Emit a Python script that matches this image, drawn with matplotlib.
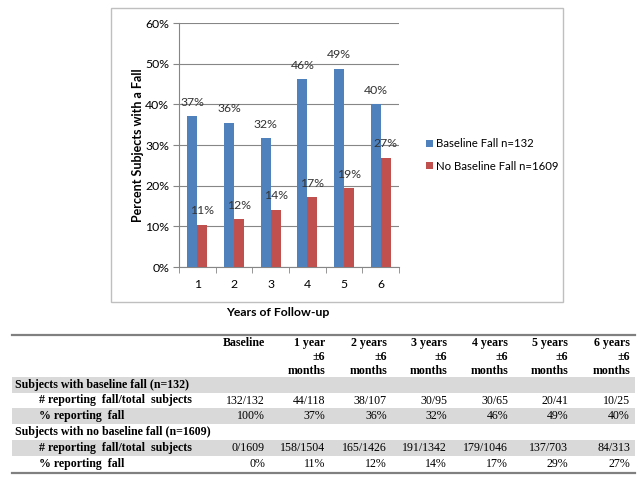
import matplotlib
matplotlib.use("Agg")
import matplotlib.pyplot as plt
from matplotlib.patches import Rectangle
from matplotlib.lines import Line2D
import numpy as np

# 차트 데이터
years = ["1", "2", "3", "4", "5", "6"]
baseline_fall = [37.1, 35.5, 31.7, 46.2, 48.8, 40.0]
no_baseline_fall = [10.4, 11.7, 14.1, 17.2, 19.4, 26.9]
baseline_labels = ["37%", "36%", "32%", "46%", "49%", "40%"]
no_baseline_labels = ["11%", "12%", "14%", "17%", "19%", "27%"]
series_names = ["Baseline Fall n=132", "No Baseline Fall n=1609"]

# 표 데이터
col_headers = ["Baseline", "1 year\n±6\nmonths", "2 years\n±6\nmonths", "3 years\n±6\nmonths",
               "4 years\n±6\nmonths", "5 years\n±6\nmonths", "6 years\n±6\nmonths"]
row_labels = ["Subjects with baseline fall (n=132)", "# reporting  fall/total  subjects",
              "% reporting  fall", "Subjects with no baseline fall (n=1609)",
              "# reporting  fall/total  subjects", "% reporting  fall"]
row_values = [
    [],
    ["132/132", "44/118", "38/107", "30/95", "30/65", "20/41", "10/25"],
    ["100%", "37%", "36%", "32%", "46%", "49%", "40%"],
    [],
    ["0/1609", "158/1504", "165/1426", "191/1342", "179/1046", "137/703", "84/313"],
    ["0%", "11%", "12%", "14%", "17%", "29%", "27%"],
]

W, H = 644, 482
def fx(px): return px / W
def fy(py): return 1 - py / H

fig = plt.figure(figsize=(W / 100, H / 100), dpi=100)

chart_font = "Lato"
blue = "#4f81bd"
red = "#c0504d"
grid_c = "#868686"
fs = 8.8

# 차트 외곽 박스
fig.patches.append(Rectangle((fx(111), fy(302)), fx(563) - fx(111), fy(8) - fy(302),
                             transform=fig.transFigure, fill=False, edgecolor="#bfbfbf", lw=1))

ax = fig.add_axes([fx(179), fy(267), fx(399) - fx(179), fy(23) - fy(267)])
x = np.arange(len(years))
bw = 0.27
b1 = ax.bar(x - bw / 2, baseline_fall, bw, color=blue, label=series_names[0], zorder=3)
b2 = ax.bar(x + bw / 2, no_baseline_fall, bw, color=red, label=series_names[1], zorder=3)

for xi, v, lab in zip(x, baseline_fall, baseline_labels):
    ax.annotate(lab, (xi - bw / 2, v), xytext=(0, 10), textcoords="offset points",
                ha="center", va="center", fontsize=fs, family=chart_font, color="#333333")
for xi, v, lab in zip(x, no_baseline_fall, no_baseline_labels):
    ax.annotate(lab, (xi + bw / 2, v), xytext=(0, 10), textcoords="offset points",
                ha="center", va="center", fontsize=fs, family=chart_font, color="#333333")

ax.set_xlim(-0.5, 5.5)
ax.set_ylim(0, 60)
ax.set_yticks(np.arange(0, 61, 10))
ax.set_yticklabels([f"{t}%" for t in range(0, 61, 10)], family=chart_font, fontsize=fs)
ax.set_xticks(x)
ax.set_xticklabels(years, family=chart_font, fontsize=fs)
ax.set_xticks(np.arange(-0.5, 6, 1), minor=True)
ax.tick_params(axis="x", which="major", length=0, pad=9)
ax.tick_params(axis="x", which="minor", length=4, color=grid_c)
ax.tick_params(axis="y", length=4, color=grid_c, pad=3)
ax.yaxis.grid(True, color=grid_c, lw=0.8, zorder=0)
for s in ["top", "right"]:
    ax.spines[s].set_visible(False)
for s in ["left", "bottom"]:
    ax.spines[s].set_color(grid_c)
    ax.spines[s].set_linewidth(0.8)
ax.set_ylabel("Percent Subjects with a Fall", family=chart_font, fontsize=9,
              fontweight="bold", labelpad=1)
fig.text(fx(278), fy(312), "Years of Follow-up", ha="center", va="center",
         family=chart_font, fontsize=fs, fontweight="bold")

fig.legend(handles=[b1, b2], loc="center left", bbox_to_anchor=(fx(416), fy(155)),
           frameon=False, handlelength=0.6, handleheight=0.6, handletextpad=0.3,
           labelspacing=1.0, prop={"family": chart_font, "size": 8.2})

# 표
tab_font = "Liberation Serif"
tfs = 8.6
tab_left, tab_right = 12, 635
row_tops = [377, 393, 408, 424, 440, 456, 472]
grey_rows = [0, 2, 4]
for i in grey_rows:
    fig.patches.append(Rectangle((fx(tab_left), fy(row_tops[i + 1])), fx(tab_right) - fx(tab_left),
                                 fy(row_tops[i]) - fy(row_tops[i + 1]), transform=fig.transFigure,
                                 color="#d9d9d9", lw=0, zorder=0))
for yy, lw in [(335, 1.6), (473, 1.6)]:
    fig.lines.append(Line2D([fx(tab_left), fx(tab_right)], [fy(yy), fy(yy)],
                            transform=fig.transFigure, color="#808080", lw=lw))

col_right = [265, 325, 387, 447, 508, 568, 630]
for cx, hdr in zip(col_right, col_headers):
    fig.text(fx(cx), fy(337), hdr, ha="right", va="top", family=tab_font, fontsize=tfs,
             fontweight="bold", linespacing=1.25)

for i, lab in enumerate(row_labels):
    yc = (row_tops[i] + row_tops[i + 1]) / 2
    lx = 15 if row_values[i] == [] else 39
    fig.text(fx(lx), fy(yc), lab, ha="left", va="center", family=tab_font,
             fontsize=tfs, fontweight="bold")
    for cx, val in zip(col_right, row_values[i]):
        fig.text(fx(cx), fy(yc), val, ha="right", va="center", family=tab_font, fontsize=tfs)

fig.savefig("out.png", dpi=100)
